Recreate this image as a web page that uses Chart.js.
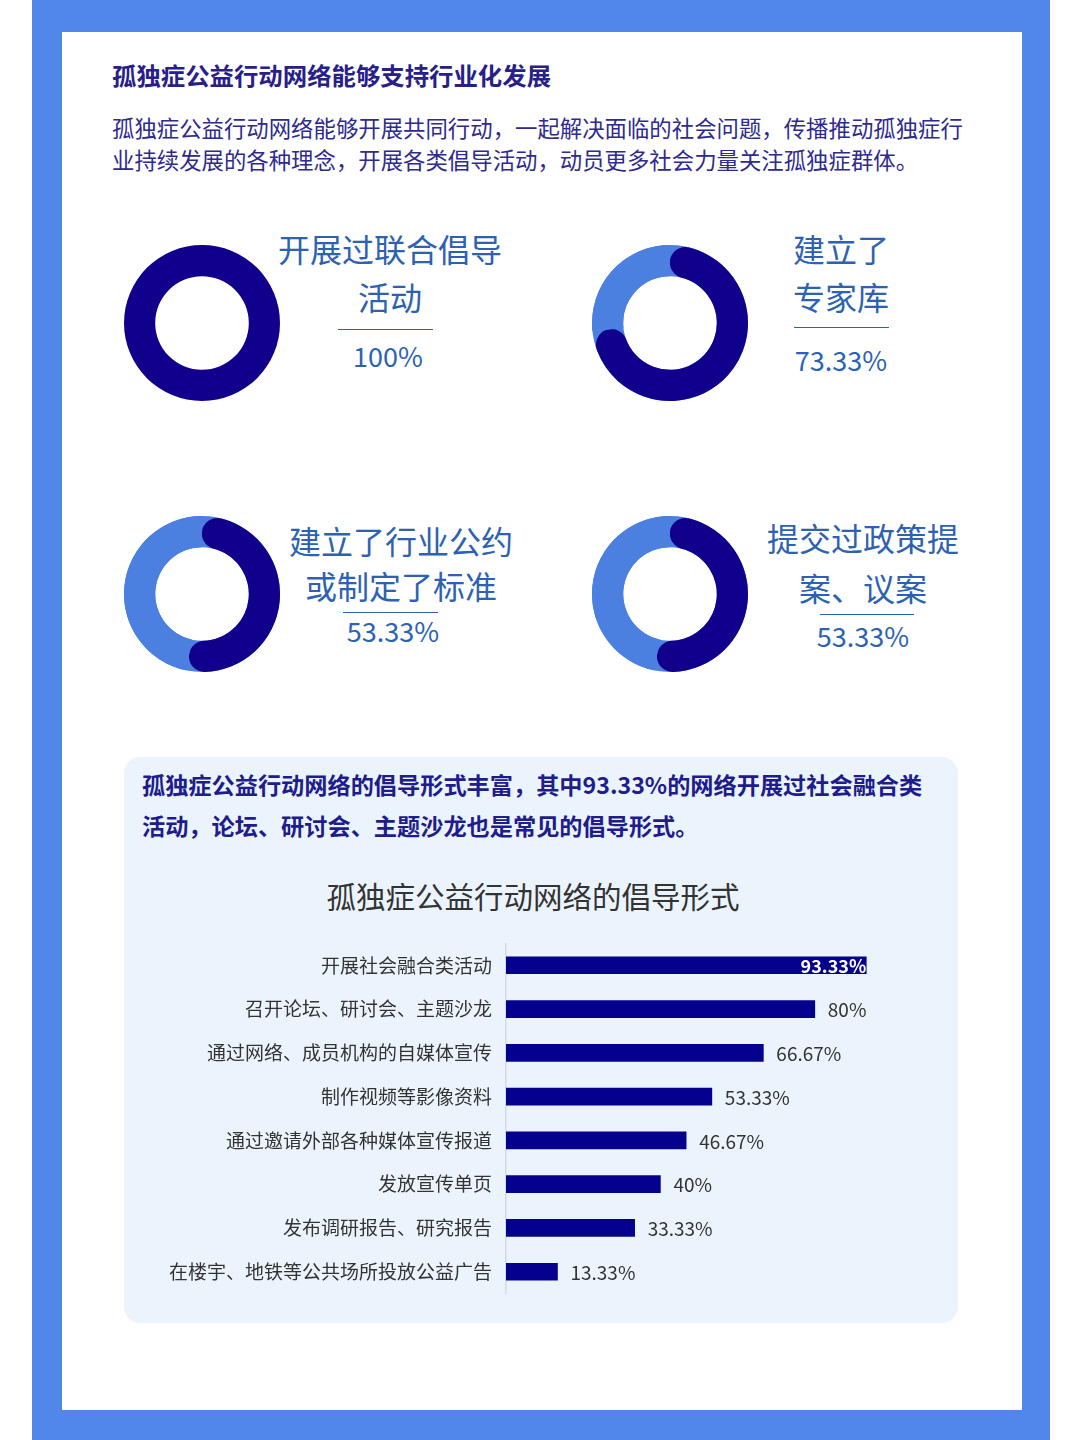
<!DOCTYPE html>
<html>
<head>
<meta charset="utf-8">
<script src="https://cdn.jsdelivr.net/npm/chart.js@4"></script>
<style>
  html,body{margin:0;padding:0;}
  body{width:1080px;height:1440px;position:relative;background:#ffffff;overflow:hidden;
       font-family:"Noto Sans CJK SC","Noto Sans",sans-serif;}
  .abs{position:absolute;}
  #frame{left:32px;top:0;width:1018px;height:1440px;background:#5087E8;}
  #sheet{left:62px;top:32px;width:960px;height:1378px;background:#ffffff;}
  .t{position:absolute;white-space:nowrap;}
  .c{text-align:center;width:400px;}
  .lbl{color:#2D62B2;font-size:32px;}
  .pct{color:#2D62B2;font-size:27px;}
  .sep{position:absolute;height:0;border-top:1.5px solid #2D62B2;}
  #panel{left:124px;top:757px;width:834px;height:566px;background:#EBF4FD;border-radius:16px;}
</style>
</head>
<body>
<div id="frame" class="abs"></div>
<div id="sheet" class="abs"></div>

<div class="t" style="left:112px;top:60px;font-size:24.4px;font-weight:700;color:#28208A;line-height:30px;">孤独症公益行动网络能够支持行业化发展</div>
<div class="t" style="left:112px;top:111px;font-size:22.4px;color:#2E2A8E;line-height:32px;">孤独症公益行动网络能够开展共同行动，一起解决面临的社会问题，传播推动孤独症行<br>业持续发展的各种理念，开展各类倡导活动，动员更多社会力量关注孤独症群体。</div>

<!-- donut 1 labels -->
<div class="t c lbl" style="left:190px;top:224px;line-height:48px;">开展过联合倡导</div>
<div class="t c lbl" style="left:190px;top:272px;line-height:48px;">活动</div>
<div class="sep" style="left:338px;top:329px;width:95px;"></div>
<div class="t c pct" style="left:188px;top:338px;line-height:36px;">100%</div>

<!-- donut 2 labels -->
<div class="t c lbl" style="left:641px;top:224px;line-height:48px;">建立了</div>
<div class="t c lbl" style="left:641px;top:272px;line-height:48px;">专家库</div>
<div class="sep" style="left:794px;top:327px;width:95px;"></div>
<div class="t c pct" style="left:641px;top:342px;line-height:36px;">73.33%</div>

<!-- donut 3 labels -->
<div class="t c lbl" style="left:201px;top:516px;line-height:48px;">建立了行业公约</div>
<div class="t c lbl" style="left:201px;top:561px;line-height:48px;">或制定了标准</div>
<div class="sep" style="left:343px;top:612px;width:95px;"></div>
<div class="t c pct" style="left:193px;top:613px;line-height:36px;">53.33%</div>

<!-- donut 4 labels -->
<div class="t c lbl" style="left:663px;top:513px;line-height:48px;">提交过政策提</div>
<div class="t c lbl" style="left:663px;top:563px;line-height:48px;">案、议案</div>
<div class="sep" style="left:820px;top:614px;width:94px;"></div>
<div class="t c pct" style="left:663px;top:618px;line-height:36px;">53.33%</div>

<div class="abs" style="left:124px;top:245px;width:156px;height:156px;"><canvas id="d0"></canvas></div>
<div class="abs" style="left:592px;top:245px;width:156px;height:156px;"><canvas id="d1"></canvas></div>
<div class="abs" style="left:124px;top:516px;width:156px;height:156px;"><canvas id="d2"></canvas></div>
<div class="abs" style="left:592px;top:516px;width:156px;height:156px;"><canvas id="d3"></canvas></div>

<div id="panel" class="abs"></div>
<div class="t" style="left:142px;top:764px;font-size:23.2px;font-weight:700;color:#201C8C;line-height:41px;">孤独症公益行动网络的倡导形式丰富，其中93.33%的网络开展过社会融合类<br>活动，论坛、研讨会、主题沙龙也是常见的倡导形式。</div>
<div class="t" style="left:233px;top:874px;width:600px;text-align:center;font-size:29.5px;color:#333333;line-height:42px;">孤独症公益行动网络的倡导形式</div>

<div class="abs" style="left:140px;top:918px;width:800px;height:401px;"><canvas id="bars"></canvas></div>

<script>
// ---------- data ----------
const donutValues = [100, 73.33, 53.33, 53.33];

const barCategories = [
  "开展社会融合类活动",
  "召开论坛、研讨会、主题沙龙",
  "通过网络、成员机构的自媒体宣传",
  "制作视频等影像资料",
  "通过邀请外部各种媒体宣传报道",
  "发放宣传单页",
  "发布调研报告、研究报告",
  "在楼宇、地铁等公共场所投放公益广告"
];
const barValues = [93.33, 80, 66.67, 53.33, 46.67, 40, 33.33, 13.33];
const barValueLabels = ["93.33%", "80%", "66.67%", "53.33%", "46.67%", "40%", "33.33%", "13.33%"];

// ---------- styles ----------
const DARK = '#10008C';
const LIGHT = '#4B80E0';
const BAR = '#06008E';
Chart.defaults.font.family = '"Noto Sans CJK SC","Noto Sans",sans-serif';

const ringUnderlay = {
  id: 'ringUnderlay',
  beforeDatasetsDraw(chart, args, opts) {
    if (!opts.show) return;
    const arc = chart.getDatasetMeta(0).data[0];
    if (!arc) return;
    const p = arc.getProps(['x', 'y', 'innerRadius', 'outerRadius'], true);
    const ctx = chart.ctx;
    ctx.save();
    ctx.beginPath();
    ctx.arc(p.x, p.y, p.outerRadius, 0, Math.PI * 2);
    ctx.arc(p.x, p.y, p.innerRadius, 0, Math.PI * 2, true);
    ctx.fillStyle = opts.color;
    ctx.fill();
    ctx.restore();
  }
};

donutValues.forEach((v, i) => {
  const full = v >= 100;
  new Chart(document.getElementById('d' + i), {
    type: 'doughnut',
    data: {
      labels: ['是', '否'],
      datasets: [{
        data: [v, Math.round((100 - v) * 100) / 100],
        backgroundColor: [DARK, LIGHT],
        borderWidth: 0,
        borderRadius: full ? 0 : [{outerStart: 16, outerEnd: 16, innerStart: 16, innerEnd: 16}, 0]
      }]
    },
    options: {
      responsive: true,
      maintainAspectRatio: true,
      aspectRatio: 1,
      animation: false,
      events: [],
      cutout: '60%',
      layout: {padding: 0},
      plugins: {
        legend: {display: false},
        tooltip: {enabled: false},
        ringUnderlay: {show: !full, color: LIGHT}
      }
    },
    plugins: [ringUnderlay]
  });
});

const valueLabels = {
  id: 'valueLabels',
  afterDatasetsDraw(chart) {
    const ctx = chart.ctx;
    const meta = chart.getDatasetMeta(0);
    ctx.save();
    ctx.textBaseline = 'middle';
    meta.data.forEach((bar, i) => {
      const txt = barValueLabels[i];
      if (i === 0) {
        ctx.font = '700 18px "Noto Sans CJK SC","Noto Sans",sans-serif';
        ctx.fillStyle = '#ffffff';
        ctx.textAlign = 'right';
        ctx.fillText(txt, bar.x, bar.y + 1);
      } else {
        ctx.font = '19px "Noto Sans CJK SC","Noto Sans",sans-serif';
        ctx.fillStyle = '#333333';
        ctx.textAlign = 'left';
        ctx.fillText(txt, bar.x + 13, bar.y + 1);
      }
    });
    ctx.restore();
  }
};

new Chart(document.getElementById('bars'), {
  type: 'bar',
  data: {
    labels: barCategories,
    datasets: [{
      data: barValues,
      backgroundColor: BAR,
      borderWidth: 0,
      barThickness: 17
    }]
  },
  options: {
    indexAxis: 'y',
    responsive: true,
    maintainAspectRatio: false,
    animation: false,
    events: [],
    layout: {padding: {top: 13, right: 48, bottom: 6, left: 0}},
    scales: {
      x: {display: false, min: 0, max: 100},
      y: {
        afterFit(scale) { scale.width = 366; },
        grid: {display: false, drawTicks: false},
        border: {display: true, color: '#D3D9E0', width: 1.5},
        ticks: {color: '#333333', padding: 14, font: {size: 19}}
      }
    },
    plugins: {legend: {display: false}, tooltip: {enabled: false}}
  },
  plugins: [valueLabels]
});
</script>
</body>
</html>
